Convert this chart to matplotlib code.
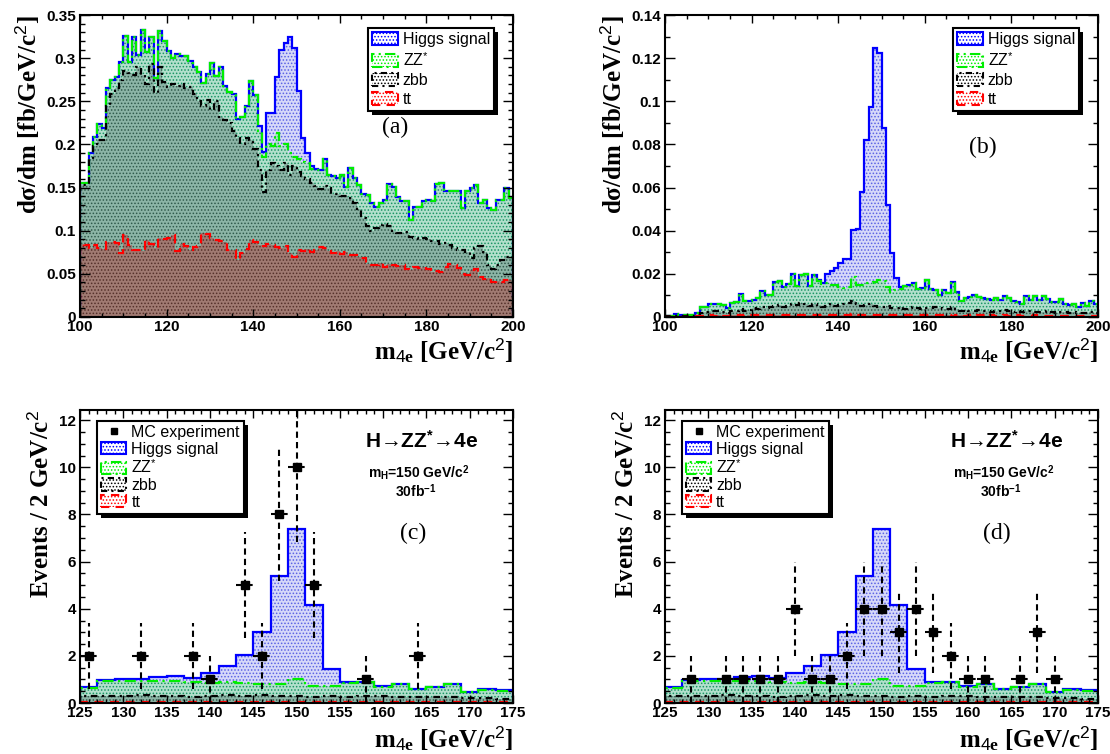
import numpy as np
import matplotlib
matplotlib.use("Agg")
import matplotlib.pyplot as plt
from matplotlib.lines import Line2D
from matplotlib.patches import Patch, Rectangle
from matplotlib.transforms import IdentityTransform
from matplotlib.ticker import MultipleLocator, FuncFormatter

plt.rcParams["font.family"] = ["Liberation Sans", "DejaVu Sans"]
plt.rcParams["mathtext.fontset"] = "custom"
plt.rcParams["mathtext.rm"] = "Liberation Sans"
plt.rcParams["mathtext.bf"] = "Liberation Sans:bold"
plt.rcParams["mathtext.it"] = "Liberation Serif:bold"
plt.rcParams["hatch.linewidth"] = 0.7

# ---- m4e spectra, 1 GeV bins from 100 to 200 (stacked heights, fb/GeV/c^2) ----
mass_edges = np.arange(100, 201, 1)

# (a) before cuts
a_tt = [0.085, 0.083, 0.080, 0.084, 0.080, 0.079, 0.087, 0.087, 0.086, 0.074,
        0.095, 0.083, 0.078, 0.078, 0.076, 0.089, 0.085, 0.080, 0.091, 0.090,
        0.092, 0.095, 0.076, 0.085, 0.082, 0.078, 0.081, 0.082, 0.097, 0.096,
        0.092, 0.089, 0.088, 0.087, 0.078, 0.078, 0.066, 0.074, 0.079, 0.089,
        0.087, 0.083, 0.082, 0.085, 0.083, 0.081, 0.080, 0.082, 0.074, 0.070,
        0.078, 0.077, 0.079, 0.075, 0.078, 0.081, 0.080, 0.076, 0.074, 0.076,
        0.073, 0.075, 0.072, 0.072, 0.070, 0.068, 0.061, 0.060, 0.060, 0.062,
        0.058, 0.061, 0.060, 0.059, 0.060, 0.056, 0.055, 0.058, 0.057, 0.058,
        0.056, 0.052, 0.053, 0.052, 0.058, 0.061, 0.060, 0.057, 0.050, 0.049,
        0.055, 0.056, 0.046, 0.044, 0.045, 0.040, 0.042, 0.040, 0.043, 0.043]
a_zbb = [0.153, 0.153, 0.183, 0.198, 0.205, 0.205, 0.245, 0.258, 0.265, 0.275,
         0.285, 0.283, 0.280, 0.290, 0.280, 0.270, 0.293, 0.260, 0.290, 0.272,
         0.266, 0.270, 0.268, 0.270, 0.265, 0.266, 0.258, 0.250, 0.245, 0.252,
         0.240, 0.250, 0.232, 0.228, 0.225, 0.215, 0.208, 0.200, 0.208, 0.205,
         0.195, 0.170, 0.145, 0.170, 0.178, 0.175, 0.170, 0.178, 0.165, 0.175,
         0.168, 0.163, 0.160, 0.155, 0.152, 0.148, 0.152, 0.150, 0.143, 0.142,
         0.140, 0.140, 0.138, 0.132, 0.125, 0.115, 0.105, 0.100, 0.103, 0.107,
         0.108, 0.105, 0.100, 0.097, 0.097, 0.099, 0.093, 0.091, 0.090, 0.092,
         0.090, 0.088, 0.088, 0.085, 0.086, 0.083, 0.080, 0.078, 0.078, 0.075,
         0.068, 0.080, 0.082, 0.075, 0.060, 0.056, 0.060, 0.066, 0.070, 0.068]
a_zz = [0.155, 0.155, 0.190, 0.209, 0.224, 0.219, 0.265, 0.275, 0.278, 0.295,
        0.326, 0.296, 0.325, 0.304, 0.333, 0.307, 0.325, 0.277, 0.332, 0.320,
        0.308, 0.300, 0.305, 0.302, 0.302, 0.297, 0.290, 0.284, 0.271, 0.282,
        0.294, 0.279, 0.290, 0.268, 0.261, 0.259, 0.230, 0.232, 0.244, 0.273,
        0.257, 0.215, 0.185, 0.200, 0.198, 0.213, 0.198, 0.200, 0.190, 0.186,
        0.183, 0.180, 0.178, 0.172, 0.170, 0.170, 0.183, 0.165, 0.163, 0.161,
        0.165, 0.151, 0.173, 0.161, 0.153, 0.143, 0.141, 0.132, 0.128, 0.132,
        0.136, 0.154, 0.151, 0.139, 0.134, 0.134, 0.112, 0.128, 0.128, 0.134,
        0.136, 0.135, 0.154, 0.155, 0.146, 0.146, 0.146, 0.146, 0.126, 0.146,
        0.149, 0.153, 0.132, 0.136, 0.126, 0.124, 0.136, 0.136, 0.150, 0.138]
a_higgs = [0.155, 0.155, 0.190, 0.209, 0.224, 0.219, 0.265, 0.275, 0.278, 0.295,
           0.326, 0.296, 0.325, 0.304, 0.333, 0.307, 0.325, 0.277, 0.332, 0.320,
           0.308, 0.300, 0.305, 0.302, 0.302, 0.297, 0.290, 0.284, 0.271, 0.282,
           0.294, 0.279, 0.290, 0.268, 0.261, 0.259, 0.230, 0.232, 0.244, 0.273,
           0.257, 0.221, 0.191, 0.236, 0.236, 0.278, 0.309, 0.318, 0.324, 0.312,
           0.262, 0.207, 0.190, 0.175, 0.172, 0.170, 0.183, 0.165, 0.163, 0.161,
           0.165, 0.151, 0.173, 0.161, 0.153, 0.143, 0.141, 0.132, 0.128, 0.132,
           0.136, 0.154, 0.151, 0.139, 0.134, 0.134, 0.112, 0.128, 0.128, 0.134,
           0.136, 0.135, 0.154, 0.155, 0.146, 0.146, 0.146, 0.146, 0.126, 0.146,
           0.149, 0.153, 0.132, 0.136, 0.126, 0.124, 0.136, 0.136, 0.150, 0.138]

# (b) after selection cuts
b_tt = [0.0001, 0.0002, 0.0002, 0.0001, 0.0002, 0.0002, 0.0003, 0.0003, 0.0005, 0.0006,
        0.0007, 0.0006, 0.0008, 0.0006, 0.0005, 0.0007, 0.0008, 0.0007, 0.0006, 0.0008,
        0.0009, 0.0007, 0.0008, 0.0010, 0.0008, 0.0009, 0.0007, 0.0008, 0.0010, 0.0009,
        0.0008, 0.0010, 0.0009, 0.0007, 0.0010, 0.0008, 0.0009, 0.0011, 0.0008, 0.0007,
        0.0009, 0.0010, 0.0008, 0.0012, 0.0009, 0.0010, 0.0008, 0.0007, 0.0009, 0.0010,
        0.0008, 0.0009, 0.0007, 0.0008, 0.0009, 0.0007, 0.0008, 0.0010, 0.0008, 0.0007,
        0.0009, 0.0008, 0.0007, 0.0009, 0.0008, 0.0007, 0.0006, 0.0008, 0.0007, 0.0006,
        0.0007, 0.0006, 0.0008, 0.0007, 0.0006, 0.0007, 0.0005, 0.0006, 0.0007, 0.0006,
        0.0005, 0.0007, 0.0006, 0.0005, 0.0006, 0.0007, 0.0005, 0.0006, 0.0005, 0.0004,
        0.0006, 0.0005, 0.0004, 0.0005, 0.0006, 0.0004, 0.0005, 0.0004, 0.0005, 0.0004]
b_zbb = [0.0003, 0.0003, 0.0005, 0.0005, 0.0004, 0.0004, 0.0005, 0.0008, 0.0020, 0.0025,
         0.0030, 0.0028, 0.0030, 0.0025, 0.0020, 0.0028, 0.0030, 0.0035, 0.0030, 0.0032,
         0.0040, 0.0035, 0.0045, 0.0040, 0.0048, 0.0050, 0.0055, 0.0045, 0.0052, 0.0060,
         0.0055, 0.0065, 0.0062, 0.0050, 0.0058, 0.0055, 0.0048, 0.0052, 0.0060, 0.0050,
         0.0055, 0.0058, 0.0065, 0.0072, 0.0060, 0.0052, 0.0055, 0.0060, 0.0050, 0.0048,
         0.0045, 0.0050, 0.0042, 0.0040, 0.0045, 0.0038, 0.0042, 0.0048, 0.0040, 0.0035,
         0.0040, 0.0042, 0.0045, 0.0040, 0.0038, 0.0035, 0.0048, 0.0035, 0.0030, 0.0032,
         0.0030, 0.0028, 0.0032, 0.0030, 0.0028, 0.0025, 0.0030, 0.0028, 0.0032, 0.0030,
         0.0025, 0.0028, 0.0025, 0.0030, 0.0028, 0.0025, 0.0022, 0.0025, 0.0028, 0.0022,
         0.0020, 0.0025, 0.0022, 0.0020, 0.0022, 0.0018, 0.0020, 0.0018, 0.0022, 0.0020]
b_zz = [0.0005, 0.0005, 0.0013, 0.0010, 0.0008, 0.0008, 0.0010, 0.0018, 0.0045, 0.0048,
        0.0060, 0.0058, 0.0058, 0.0055, 0.0040, 0.0065, 0.0068, 0.0108, 0.0073, 0.0073,
        0.0080, 0.0088, 0.0119, 0.0103, 0.0103, 0.0160, 0.0165, 0.0140, 0.0155, 0.0200,
        0.0145, 0.0196, 0.0200, 0.0145, 0.0196, 0.0165, 0.0155, 0.0157, 0.0150, 0.0150,
        0.0140, 0.0135, 0.0140, 0.0185, 0.0150, 0.0150, 0.0157, 0.0157, 0.0160, 0.0170,
        0.0165, 0.0140, 0.0114, 0.0125, 0.0128, 0.0145, 0.0150, 0.0157, 0.0130, 0.0135,
        0.0173, 0.0130, 0.0127, 0.0103, 0.0125, 0.0110, 0.0160, 0.0115, 0.0072, 0.0088,
        0.0092, 0.0100, 0.0093, 0.0088, 0.0085, 0.0080, 0.0088, 0.0080, 0.0099, 0.0088,
        0.0072, 0.0068, 0.0062, 0.0099, 0.0080, 0.0099, 0.0078, 0.0099, 0.0084, 0.0070,
        0.0068, 0.0084, 0.0062, 0.0057, 0.0060, 0.0046, 0.0065, 0.0052, 0.0075, 0.0060]
b_higgs = [0.0005, 0.0005, 0.0013, 0.0010, 0.0008, 0.0008, 0.0010, 0.0018, 0.0045, 0.0048,
           0.0060, 0.0058, 0.0058, 0.0055, 0.0040, 0.0065, 0.0068, 0.0108, 0.0073, 0.0073,
           0.0080, 0.0088, 0.0119, 0.0103, 0.0103, 0.0160, 0.0165, 0.0140, 0.0155, 0.0200,
           0.0145, 0.0196, 0.0200, 0.0145, 0.0196, 0.0173, 0.0157, 0.0198, 0.0212, 0.0225,
           0.0250, 0.0268, 0.0270, 0.0405, 0.0410, 0.0580, 0.0820, 0.0975, 0.1245, 0.1222,
           0.0875, 0.0520, 0.0296, 0.0180, 0.0139, 0.0145, 0.0150, 0.0157, 0.0130, 0.0135,
           0.0173, 0.0130, 0.0127, 0.0103, 0.0125, 0.0110, 0.0160, 0.0115, 0.0072, 0.0088,
           0.0092, 0.0100, 0.0093, 0.0088, 0.0085, 0.0080, 0.0088, 0.0080, 0.0099, 0.0088,
           0.0072, 0.0068, 0.0062, 0.0099, 0.0080, 0.0099, 0.0078, 0.0099, 0.0084, 0.0070,
           0.0068, 0.0084, 0.0062, 0.0057, 0.0060, 0.0046, 0.0065, 0.0052, 0.0075, 0.0060]

# ---- expected events for 30 fb^-1, 2 GeV bins from 125 to 175 (stacked) ----
evt_edges = np.arange(125, 176, 2)
mc_tt = [0.04, 0.05, 0.04, 0.06, 0.05, 0.04, 0.05, 0.06, 0.04, 0.05, 0.06, 0.05, 0.04,
         0.05, 0.04, 0.05, 0.04, 0.06, 0.04, 0.05, 0.04, 0.05, 0.04, 0.04, 0.03]
mc_zbb = [0.28, 0.30, 0.28, 0.32, 0.29, 0.31, 0.27, 0.30, 0.33, 0.31, 0.35, 0.29, 0.31,
          0.25, 0.29, 0.27, 0.29, 0.31, 0.27, 0.24, 0.26, 0.27, 0.21, 0.23, 0.19]
mc_zz = [0.62, 0.93, 0.92, 0.92, 0.93, 0.92, 0.90, 0.86, 0.90, 0.86, 0.80, 0.80, 1.00,
         0.74, 0.72, 0.86, 0.88, 0.70, 0.82, 0.59, 0.67, 0.82, 0.46, 0.57, 0.52]
mc_higgs = [0.66, 0.96, 1.02, 1.04, 1.10, 1.13, 1.06, 1.27, 1.58, 2.02, 3.00, 5.40, 7.40,
            4.17, 1.44, 0.89, 0.89, 0.71, 0.82, 0.60, 0.68, 0.82, 0.47, 0.59, 0.54]

# two pseudo-experiments (event counts at bin centres)
exp_c_mass = [126, 132, 138, 140, 144, 146, 148, 150, 152, 158, 164]
exp_c_count = [2, 2, 2, 1, 5, 2, 8, 10, 5, 1, 2]
exp_d_mass = [128, 132, 134, 136, 138, 140, 142, 144, 146, 148, 150, 152, 154, 156,
              158, 160, 162, 166, 168, 170]
exp_d_count = [1, 1, 1, 1, 1, 4, 1, 1, 2, 4, 4, 3, 4, 3, 2, 1, 1, 1, 3, 1]

SERIES = ["tt", "zbb", "zz", "higgs"]
LABELS = {"higgs": "Higgs signal", "zz": "ZZ$^{*}$", "zbb": "zbb", "tt": "tt"}
FACE = {"higgs": "#d6d8f9", "zz": "#b2e0cc", "zbb": "#8cb5a6", "tt": "#a07a72"}
DOTS = {"higgs": "#5a62e4", "zz": "#1a9464", "zbb": "#2f5a4b", "tt": "#55302a"}
LINE = {
    "higgs": dict(color="#0000ff", linestyle="-"),
    "zz": dict(color="#00ee00", linestyle=(0, (5, 2, 1, 2))),
    "zbb": dict(color="black", linestyle=(0, (3, 2, 1, 2))),
    "tt": dict(color="#ff0000", linestyle=(0, (4, 3))),
}
HATCH = "....."

TICK_FONT = dict(family="Liberation Sans", weight="bold", size=11)
TITLE_FONT = dict(family="Liberation Serif", weight="bold", size=18)


def draw_stack(ax, edges, levels):
    lower = np.zeros(len(edges) - 1)
    for name, upper in zip(SERIES, levels):
        ax.stairs(upper, edges, baseline=lower, fill=True, facecolor=FACE[name],
                  edgecolor=DOTS[name], hatch=HATCH, linewidth=0)
        lower = np.asarray(upper)
    # outlines in ROOT stack order: total first, tt last
    for name, upper in reversed(list(zip(SERIES, levels))):
        ax.stairs(upper, edges, baseline=0, linewidth=1.6, **LINE[name])


def draw_data(ax, x, n):
    n = np.asarray(n, dtype=float)
    _, _, bars = ax.errorbar(x, n, yerr=np.sqrt(n), xerr=1, fmt="s", color="black",
                             ms=6, elinewidth=1.5, capsize=0, zorder=5)
    for b in bars:
        b.set_linestyle((0, (3, 2)))


def style_axes(ax, xmaj, xmin, ymaj, ymin):
    ax.xaxis.set_major_locator(MultipleLocator(xmaj))
    ax.xaxis.set_minor_locator(MultipleLocator(xmin))
    ax.yaxis.set_major_locator(MultipleLocator(ymaj))
    ax.yaxis.set_minor_locator(MultipleLocator(ymin))
    fmt = FuncFormatter(lambda v, _: f"{v:g}")
    ax.xaxis.set_major_formatter(fmt)
    ax.yaxis.set_major_formatter(fmt)
    ax.tick_params(which="both", direction="in", top=True, right=True, width=1)
    ax.tick_params(axis="x", which="major", length=6, pad=2)
    ax.tick_params(axis="x", which="minor", length=3)
    ax.tick_params(axis="y", which="major", length=7, pad=3)
    ax.tick_params(axis="y", which="minor", length=3.5)
    for lab in ax.get_xticklabels() + ax.get_yticklabels():
        lab.set_fontproperties(TICK_FONT)
    for sp in ax.spines.values():
        sp.set_linewidth(1.5)


def stack_legend(ax, anchor, loc, with_data=False):
    handles, labels = [], []
    if with_data:
        handles.append(Line2D([], [], marker="s", ls="none", color="black", ms=4))
        labels.append("MC experiment")
    for name in reversed(SERIES):
        handles.append(Patch(facecolor="white", edgecolor=LINE[name]["color"],
                             linestyle=LINE[name]["linestyle"], linewidth=1.5,
                             hatch=HATCH))
        labels.append(LABELS[name])
    leg = ax.legend(handles, labels, loc=loc, bbox_to_anchor=anchor, borderaxespad=0,
                    fancybox=False, shadow=False, framealpha=1, edgecolor="black",
                    prop={"family": "Liberation Sans", "size": 11.5},
                    handlelength=1.6, handleheight=0.8, handletextpad=0.3,
                    labelspacing=0.1 if with_data else 0.25, borderpad=0.25)
    leg.get_frame().set_linewidth(1.5)
    return leg


def add_shadows(fig, legends, off=4):
    # solid black drop shadow, ROOT style
    fig.canvas.draw()
    renderer = fig.canvas.get_renderer()
    for leg in legends:
        bb = leg.get_window_extent(renderer)
        shadow = Rectangle((bb.x0 + off, bb.y0 - off), bb.width, bb.height,
                           transform=IdentityTransform(), facecolor="black",
                           edgecolor="none", clip_on=False, zorder=leg.get_zorder() - 0.1)
        leg.axes.add_artist(shadow)


fig = plt.figure(figsize=(11.1, 7.54), dpi=100)
ax_a = fig.add_axes([0.0721, 0.5796, 0.3901, 0.4005])
ax_b = fig.add_axes([0.5991, 0.5796, 0.3901, 0.4005])
ax_c = fig.add_axes([0.0721, 0.0676, 0.3901, 0.3886])
ax_d = fig.add_axes([0.5991, 0.0676, 0.3901, 0.3886])

xlabel = "m$_{\\mathit{4e}}$ [GeV/c$^{\\mathit{2}}$]"
legends = []

for ax, levels, tag, ymax, ystep, tag_xy in [
    (ax_a, [a_tt, a_zbb, a_zz, a_higgs], "(a)", 0.35, 0.05, (0.727, 0.626)),
    (ax_b, [b_tt, b_zbb, b_zz, b_higgs], "(b)", 0.14, 0.02, (0.734, 0.563)),
]:
    draw_stack(ax, mass_edges, levels)
    ax.set_xlim(100, 200)
    ax.set_ylim(0, ymax)
    style_axes(ax, 20, 5, ystep, 0.01)
    ax.set_xlabel(xlabel, loc="right", labelpad=2, **TITLE_FONT)
    ax.set_ylabel("dσ/dm [fb/GeV/c$^{\\mathit{2}}$]", loc="top", labelpad=4, **TITLE_FONT)
    legends.append(stack_legend(ax, (0.956, 0.957), "upper right"))
    ax.text(*tag_xy, tag, transform=ax.transAxes, ha="center", va="center",
            family="Liberation Serif", size=17)

for ax, xs, ns, tag, tag_xy in [
    (ax_c, exp_c_mass, exp_c_count, "(c)", (0.769, 0.580)),
    (ax_d, exp_d_mass, exp_d_count, "(d)", (0.767, 0.580)),
]:
    draw_stack(ax, evt_edges, [mc_tt, mc_zbb, mc_zz, mc_higgs])
    draw_data(ax, xs, ns)
    ax.set_xlim(125, 175)
    ax.set_ylim(0, 12.43)
    style_axes(ax, 5, 1, 2, 0.5)
    ax.set_xlabel(xlabel, loc="right", labelpad=3, **TITLE_FONT)
    ax.set_ylabel("Events / 2 GeV/c$^{\\mathit{2}}$", loc="top", labelpad=4, **TITLE_FONT)
    legends.append(stack_legend(ax, (0.039, 0.962), "upper left", with_data=True))
    ax.text(*tag_xy, tag, transform=ax.transAxes, ha="center", va="center",
            family="Liberation Serif", size=17)
    ax.text(0.79, 0.893, "H→ZZ$^{\\mathbf{*}}$→4e", transform=ax.transAxes,
            ha="center", va="center", weight="bold", size=15)
    ax.text(0.783, 0.786, "m$_{\\mathbf{H}}$=150 GeV/c$^{\\mathbf{2}}$",
            transform=ax.transAxes, ha="center", va="center", weight="bold", size=10)
    ax.text(0.776, 0.723, "30fb$^{\\mathbf{-1}}$", transform=ax.transAxes,
            ha="center", va="center", weight="bold", size=10)

add_shadows(fig, legends)
fig.savefig("out.png", dpi=100)
